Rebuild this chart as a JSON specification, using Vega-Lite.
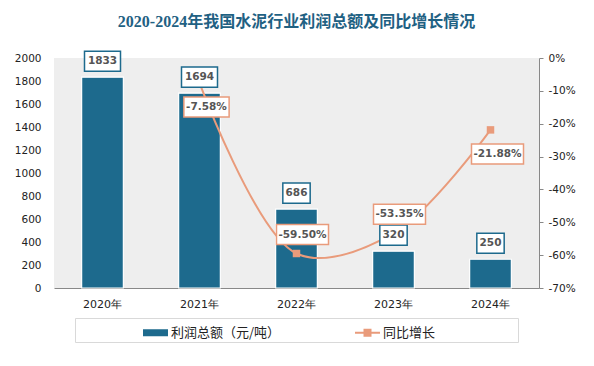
{
  "$schema": "https://vega.github.io/schema/vega-lite/v6.json",
  "width": 485,
  "height": 230,
  "autosize": {"type": "none"},
  "padding": {"left": 54, "top": 58, "right": 55, "bottom": 78},
  "background": "white",
  "config": {
    "view": {"fill": "#eeeeee", "stroke": null},
    "font": "DejaVu Sans"
  },
  "title": {
    "text": "2020-2024年我国水泥行业利润总额及同比增长情况",
    "font": "Liberation Serif, Noto Sans CJK SC",
    "fontSize": 16,
    "fontWeight": "bold",
    "color": "#1f6183",
    "anchor": "middle",
    "offset": 18
  },
  "data": {
    "values": [
      {"year": "2020年", "profit": 1833, "growth": null, "growthLabel": ""},
      {"year": "2021年", "profit": 1694, "growth": -7.58, "growthLabel": "-7.58%"},
      {"year": "2022年", "profit": 686, "growth": -59.50, "growthLabel": "-59.50%"},
      {"year": "2023年", "profit": 320, "growth": -53.35, "growthLabel": "-53.35%"},
      {"year": "2024年", "profit": 250, "growth": -21.88, "growthLabel": "-21.88%"}
    ]
  },
  "encoding": {
    "x": {
      "field": "year", "type": "nominal", "sort": null,
      "scale": {"paddingInner": 0.57, "paddingOuter": 0.285},
      "axis": {"title": null, "labelAngle": 0, "ticks": false, "domainColor": "#888888", "labelFontSize": 11, "labelColor": "#222222", "labelPadding": 10, "labelFont": "DejaVu Sans"}
    }
  },
  "layer": [
    {
      "mark": {"type": "bar", "stroke": "white", "strokeWidth": 1.2},
      "encoding": {
        "y": {
          "field": "profit", "type": "quantitative",
          "scale": {"domain": [0, 2000], "nice": false},
          "axis": {"title": null, "orient": "left", "format": "d", "values": [0,200,400,600,800,1000,1200,1400,1600,1800,2000], "domain": false, "ticks": false, "grid": false, "labelFontSize": 10.5, "labelColor": "#222222", "labelPadding": 13}
        },
        "color": {
          "datum": "利润总额（元/吨）",
          "scale": {"domain": ["利润总额（元/吨）", "同比增长"], "range": ["#1d6a8d", "#e99b7b"]},
          "legend": {
            "orient": "none",
            "legendX": 21,
            "legendY": 260,
            "direction": "horizontal",
            "title": "一二三四五",
            "titleOrient": "left",
            "titleFontSize": 13,
            "titleOpacity": 0,
            "titlePadding": 1,
            "padding": 2,
            "strokeColor": "#d9d9d9",
            "fillColor": "white",
            "columnPadding": 74,
            "labelFont": "Noto Sans CJK SC",
            "labelFontSize": 13,
            "labelColor": "#222222",
            "labelOffset": 3,
            "labelLimit": 300,
            "symbolSize": 625,
            "symbolStrokeWidth": 0,
            "symbolOpacity": 1,
            "symbolType": {"expr": "datum.value == '同比增长' ? 'M-1,-0.08H-0.32V-0.32H0.32V-0.08H1V0.08H0.32V0.32H-0.32V0.08H-1Z' : 'M-1,-0.28H1V0.28H-1Z'"},
            "labelExpr": "datum.label == '同比增长' ? datum.label + '\u2800\u2800\u2800\u2800\u2800\u2800\u2800\u2800' : datum.label"
          }
        }
      }
    },
    {
      "transform": [{"filter": "isValid(datum.growth)"}],
      "encoding": {
        "y": {
          "field": "growth", "type": "quantitative",
          "scale": {"domain": [-70, 0], "nice": false},
          "axis": {"title": null, "orient": "right", "values": [0,-10,-20,-30,-40,-50,-60,-70], "labelExpr": "datum.value + '%'", "domain": true, "domainColor": "#888888", "ticks": true, "tickSize": 4, "tickColor": "#888888", "grid": false, "labelFontSize": 10.5, "labelColor": "#222222", "labelPadding": 5}
        }
      },
      "layer": [
        {
          "mark": {"type": "line", "interpolate": "catmull-rom", "strokeWidth": 2},
          "encoding": {"color": {"datum": "同比增长"}}
        },
        {
          "mark": {"type": "point", "shape": "square", "filled": true, "color": "#e99b7b", "opacity": 1, "size": 56}
        }
      ]
    },
    {
      "encoding": {
        "y": {
          "field": "profit", "type": "quantitative",
          "scale": {"domain": [0, 2000], "nice": false},
          "axis": null
        }
      },
      "layer": [
        {
          "mark": {"type": "point", "filled": true, "fill": "white", "stroke": "#1d6a8d", "strokeWidth": 1.5, "opacity": 1, "size": 1296, "yOffset": -16},
          "encoding": {
            "shape": {"condition": {"test": "datum.profit >= 1000", "value": "M-1,-0.56H1V0.56H-1Z"}, "value": "M-0.76,-0.56H0.76V0.56H-0.76Z"}
          }
        },
        {
          "mark": {"type": "text", "font": "DejaVu Sans", "fontWeight": "bold", "fontSize": 10.5, "color": "#555555", "yOffset": -16, "baseline": "middle"},
          "encoding": {"text": {"field": "profit", "type": "quantitative", "format": "d"}}
        }
      ]
    },
    {
      "transform": [{"filter": "isValid(datum.growth)"}],
      "encoding": {
        "y": {
          "field": "growth", "type": "quantitative",
          "scale": {"domain": [-70, 0], "nice": false},
          "axis": null
        }
      },
      "layer": [
        {
          "transform": [{"filter": "datum.growth > -40"}],
          "layer": [
            {
              "mark": {"type": "point", "filled": true, "fill": "white", "stroke": "#e99b7b", "strokeWidth": 1.5, "opacity": 1, "size": 2704, "yOffset": 24, "xOffset": 7},
              "encoding": {
                "shape": {"condition": {"test": "datum.growth > -10", "value": "M-0.87,-0.385H0.87V0.385H-0.87Z"}, "value": "M-1,-0.385H1V0.385H-1Z"}
              }
            },
            {
              "mark": {"type": "text", "font": "DejaVu Sans", "fontWeight": "bold", "fontSize": 10.5, "color": "#555555", "yOffset": 24, "xOffset": 7, "baseline": "middle"},
              "encoding": {"text": {"field": "growthLabel"}}
            }
          ]
        },
        {
          "transform": [{"filter": "datum.growth <= -40"}],
          "layer": [
            {
              "mark": {"type": "point", "filled": true, "fill": "white", "stroke": "#e99b7b", "strokeWidth": 1.5, "opacity": 1, "size": 2704, "yOffset": -19, "xOffset": 6},
              "encoding": {
                "shape": {"value": "M-1,-0.385H1V0.385H-1Z"}
              }
            },
            {
              "mark": {"type": "text", "font": "DejaVu Sans", "fontWeight": "bold", "fontSize": 10.5, "color": "#555555", "yOffset": -19, "xOffset": 6, "baseline": "middle"},
              "encoding": {"text": {"field": "growthLabel"}}
            }
          ]
        }
      ]
    }
  ],
  "resolve": {"scale": {"y": "independent"}}
}
